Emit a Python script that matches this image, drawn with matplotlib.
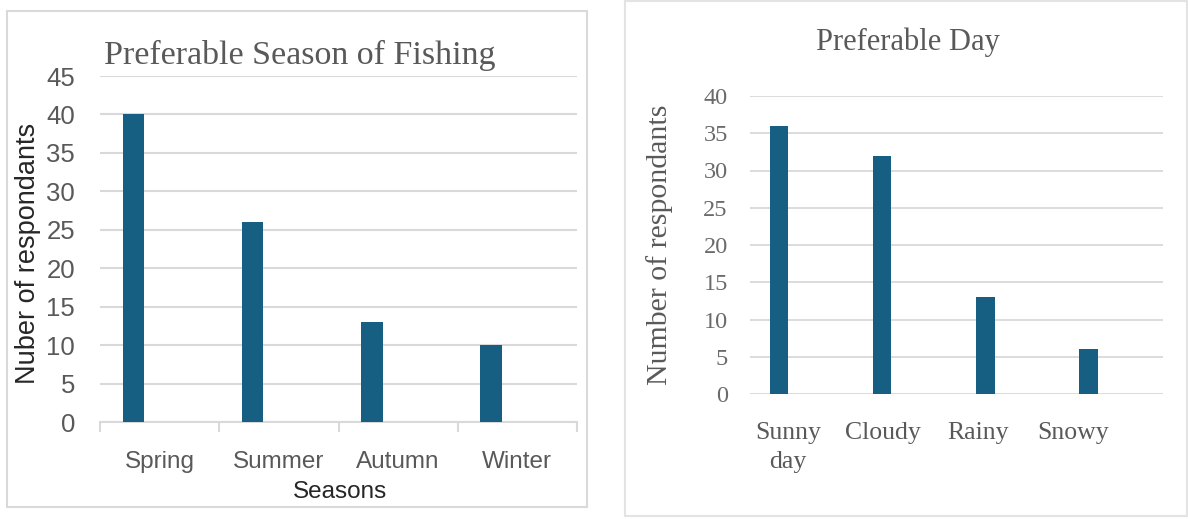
import numpy as np
import matplotlib.pyplot as plt
from matplotlib.patches import Rectangle

# ---------- DATA ----------
seasons = ["Spring", "Summer", "Autumn", "Winter"]
season_counts = [40, 26, 13, 10]

days = ["Sunny\nday", "Cloudy", "Rainy", "Snowy"]
day_counts = [36, 32, 13, 6]

BAR = "#175e83"
GRID = "#d9d9d9"
TXT = "#595959"
SANS = ["Liberation Sans", "DejaVu Sans"]
SERIF = ["Liberation Serif", "DejaVu Serif"]

W, H = 1188, 519
fig = plt.figure(figsize=(W / 100, H / 100), dpi=100)


def px_box(x0, y0, x1, y1):
    # pixel box (top-left origin) -> figure fraction [l, b, w, h]
    return [x0 / W, (H - y1) / H, (x1 - x0) / W, (y1 - y0) / H]


# ---------- PANEL BORDERS ----------
for (x0, y0, x1, y1), col in [((7, 11, 587, 507), "#d9d9d9"),
                              ((625, 1, 1187, 516), "#e3e3e3")]:
    l, b, w, h = px_box(x0, y0, x1, y1)
    fig.add_artist(Rectangle((l, b), w, h, transform=fig.transFigure,
                             fill=False, edgecolor=col, linewidth=1.5))

# ---------- LEFT: SEASON ----------
ax1 = fig.add_axes(px_box(100, 76, 577, 422))
x = np.arange(len(seasons))
ax1.bar(x - 0.22, season_counts, width=0.18, color=BAR, zorder=3)
ax1.set_xlim(-0.5, len(seasons) - 0.5)
ax1.set_ylim(0, 45)
ax1.set_yticks(np.arange(0, 46, 5))
ax1.grid(axis="y", color=GRID, linewidth=1.5, zorder=0)
for s in ["top", "right", "left"]:
    ax1.spines[s].set_visible(False)
ax1.spines["bottom"].set_color(GRID)
ax1.spines["bottom"].set_linewidth(1.5)
ax1.set_xticks(x)
ax1.set_xticklabels(seasons, fontsize=17.5, color=TXT, family=SANS)
ax1.set_xticks(np.arange(-0.5, len(seasons)), minor=True)
ax1.tick_params(axis="x", which="major", length=0, pad=21)
ax1.tick_params(axis="x", which="minor", length=7, width=1.5, color=GRID)
ax1.tick_params(axis="y", length=0, pad=18, labelsize=18.5, labelcolor=TXT)
for lab in ax1.get_yticklabels():
    lab.set_family(SANS)

fig.text(300 / W, 1 - 55 / H, "Preferable Season of Fishing", ha="center",
         va="center", fontsize=24.5, color=TXT, family=SERIF)
fig.text(28 / W, 1 - 253 / H, "Nuber of respondants", ha="center",
         va="center", rotation=90, fontsize=19.5, color="#262626", family=SANS)
fig.text(340 / W, 1 - 492 / H, "Seasons", ha="center", va="center",
         fontsize=17.5, color="#262626", family=SANS)

# ---------- RIGHT: DAY ----------
ax2 = fig.add_axes(px_box(750, 96, 1163, 394))
x2 = np.arange(len(days))
ax2.bar(x2 - 0.22, day_counts, width=0.18, color=BAR, zorder=3)
ax2.set_xlim(-0.5, len(days) - 0.5)
ax2.set_ylim(0, 40)
ax2.set_yticks(np.arange(0, 41, 5))
ax2.grid(axis="y", color=GRID, linewidth=1.3, zorder=0)
for s in ax2.spines.values():
    s.set_visible(False)
ax2.set_xticks(x2 * 0.92 - 0.13)
ax2.set_xticklabels(days, fontsize=18.5, color=TXT, family=SERIF,
                    linespacing=1.45)
ax2.tick_params(axis="x", length=0, pad=20)
ax2.tick_params(axis="y", length=0, pad=16, labelsize=17.5, labelcolor="#6a6a6a")
for lab in ax2.get_yticklabels():
    lab.set_family(SERIF)

fig.text(908 / W, 1 - 42 / H, "Preferable Day", ha="center", va="center",
         fontsize=22, color=TXT, family=SERIF)
fig.text(660 / W, 1 - 245 / H, "Number of respondants", ha="center",
         va="center", rotation=90, fontsize=21.5, color=TXT, family=SERIF)

fig.savefig("out.png", dpi=100)
